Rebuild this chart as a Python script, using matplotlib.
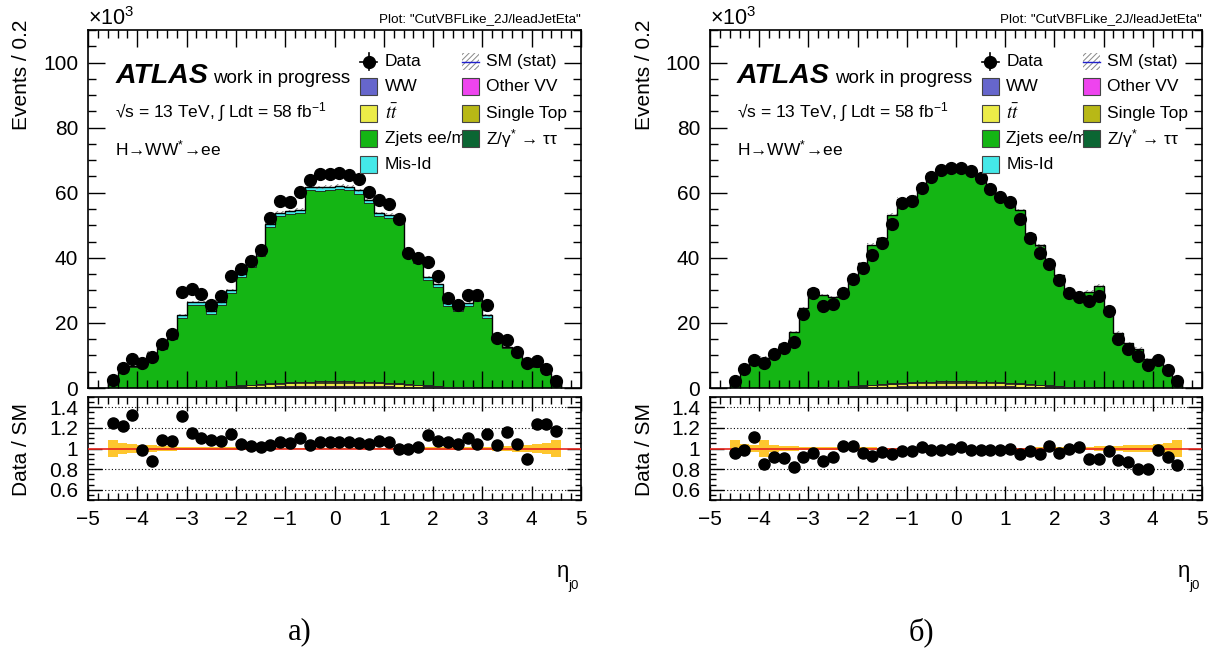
import numpy as np
import matplotlib
matplotlib.use('Agg')
import matplotlib.pyplot as plt
from matplotlib.patches import Rectangle
from matplotlib.lines import Line2D
from matplotlib.ticker import MultipleLocator, FuncFormatter

plt.rcParams['font.family'] = ['Liberation Sans', 'DejaVu Sans']
plt.rcParams['mathtext.fontset'] = 'custom'
plt.rcParams['mathtext.rm'] = 'Liberation Sans'
plt.rcParams['mathtext.it'] = 'Liberation Sans:italic'
plt.rcParams['mathtext.bf'] = 'Liberation Sans:bold'
plt.rcParams['hatch.linewidth'] = 0.7

# ---------------- data (x10^3 events per 0.2 bin) ----------------
eta_lo, eta_hi, n_bins = -4.6, 4.6, 46

# panel a)
data_a = [2.5, 6.1, 8.9, 7.6, 9.6, 13.4, 16.6, 29.4, 30.5, 29.0, 25.5, 28.3, 34.3, 36.5, 38.9, 42.5,
          52.2, 57.4, 57.1, 60.3, 64.0, 65.7, 65.9, 66.1, 65.5, 64.1, 60.2, 57.8, 56.4, 51.9, 41.4,
          40.0, 38.6, 34.3, 27.7, 25.5, 28.7, 28.6, 25.5, 15.5, 14.7, 11.2, 7.6, 8.4, 5.7, 2.1]
zjets_a = [1.89, 4.78, 6.34, 7.34, 10.43, 11.93, 14.91, 21.47, 25.45, 25.32, 22.54, 25.1, 28.61, 33.3,
           36.05, 39.44, 47.95, 51.26, 51.65, 51.93, 58.74, 58.53, 58.73, 58.93, 58.63, 57.74, 55.03,
           51.05, 50.56, 49.45, 39.14, 37.35, 32.5, 30.41, 24.9, 23.34, 25.12, 26.45, 21.37, 14.41,
           12.23, 10.23, 8.14, 6.44, 4.38, 1.69]
misid_a = [0.1, 0.2, 0.3, 0.3, 0.4, 0.4, 0.5, 0.8, 0.9, 0.9, 0.8, 0.9, 0.9, 1.0, 1.0, 1.0, 1.0, 1.0, 1.0,
           1.0, 1.1, 1.1, 1.1, 1.1, 1.1, 1.1, 1.0, 1.0, 1.0, 1.0, 1.0, 1.0, 0.9, 0.9, 0.8, 0.8, 0.8, 0.9,
           0.8, 0.5, 0.4, 0.4, 0.3, 0.3, 0.2, 0.1]
relerr_a = [0.085, 0.05, 0.045, 0.03, 0.03, 0.025, 0.02, 0.015, 0.013, 0.013, 0.013, 0.012, 0.011, 0.01,
            0.01, 0.009, 0.008, 0.008, 0.008, 0.008, 0.007, 0.007, 0.007, 0.007, 0.007, 0.007, 0.008,
            0.008, 0.008, 0.008, 0.009, 0.01, 0.01, 0.011, 0.012, 0.013, 0.013, 0.013, 0.015, 0.02,
            0.025, 0.03, 0.03, 0.04, 0.05, 0.085]

# panel b)
data_b = [2.3, 5.8, 8.7, 7.7, 10.5, 12.3, 14.1, 22.6, 29.1, 25.2, 25.7, 29.1, 33.5, 36.8, 40.9, 44.7,
          50.5, 56.9, 57.6, 61.3, 64.8, 67.0, 67.5, 67.7, 66.6, 64.5, 61.1, 58.7, 57.3, 52.0, 46.1,
          41.6, 38.2, 33.2, 29.1, 27.9, 26.6, 28.2, 23.8, 15.1, 12.0, 9.7, 7.2, 8.6, 5.5, 2.1]
zjets_b = [2.37, 5.85, 7.71, 9.0, 11.39, 13.38, 17.06, 24.4, 30.07, 28.34, 27.56, 28.02, 32.12, 37.41,
           42.85, 44.74, 51.65, 56.36, 56.95, 58.73, 63.44, 65.53, 65.33, 64.53, 65.13, 63.14, 59.73,
           57.45, 55.56, 53.15, 45.94, 42.65, 36.41, 33.92, 28.62, 27.16, 29.34, 31.07, 24.3, 16.86,
           13.68, 11.99, 8.9, 8.61, 5.95, 2.47]
misid_b = [0.02, 0.03, 0.03, 0.04, 0.04, 0.05, 0.05, 0.07, 0.08, 0.08, 0.08, 0.08, 0.09, 0.09, 0.1, 0.1,
           0.1, 0.1, 0.1, 0.1, 0.1, 0.1, 0.1, 0.1, 0.1, 0.1, 0.1, 0.1, 0.1, 0.1, 0.1, 0.1, 0.09, 0.09,
           0.08, 0.08, 0.08, 0.08, 0.07, 0.05, 0.05, 0.04, 0.04, 0.03, 0.03, 0.02]
relerr_b = [0.08, 0.04, 0.03, 0.08, 0.03, 0.025, 0.02, 0.015, 0.013, 0.013, 0.012, 0.012, 0.011, 0.01,
            0.01, 0.009, 0.008, 0.008, 0.008, 0.008, 0.007, 0.007, 0.007, 0.007, 0.007, 0.007, 0.008,
            0.008, 0.008, 0.008, 0.009, 0.01, 0.01, 0.011, 0.012, 0.013, 0.015, 0.02, 0.02, 0.025,
            0.03, 0.03, 0.035, 0.04, 0.05, 0.08]

# small backgrounds (same in both panels)
ww = [0.0, 0.0, 0.01, 0.01, 0.01, 0.01, 0.01, 0.02, 0.02, 0.03, 0.04, 0.07, 0.10, 0.14, 0.18, 0.22, 0.25,
      0.28, 0.30, 0.32, 0.33, 0.35, 0.35, 0.35, 0.35, 0.33, 0.32, 0.30, 0.28, 0.25, 0.22, 0.18, 0.14,
      0.10, 0.07, 0.04, 0.03, 0.02, 0.02, 0.01, 0.01, 0.01, 0.01, 0.01, 0.0, 0.0]
other_vv = [0.0, 0.0, 0.01, 0.01, 0.01, 0.01, 0.01, 0.02, 0.02, 0.03, 0.04, 0.06, 0.09, 0.12, 0.15, 0.18,
            0.20, 0.23, 0.25, 0.27, 0.28, 0.30, 0.30, 0.30, 0.30, 0.28, 0.27, 0.25, 0.23, 0.20, 0.18,
            0.15, 0.12, 0.09, 0.06, 0.04, 0.03, 0.02, 0.02, 0.01, 0.01, 0.01, 0.01, 0.01, 0.0, 0.0]
ttbar = [0.0, 0.0, 0.01, 0.01, 0.01, 0.01, 0.01, 0.01, 0.02, 0.03, 0.08, 0.15, 0.25, 0.35, 0.50, 0.60,
         0.70, 0.80, 0.85, 0.90, 0.95, 1.00, 1.00, 1.00, 1.00, 0.95, 0.90, 0.85, 0.80, 0.70, 0.60, 0.50,
         0.35, 0.25, 0.15, 0.08, 0.03, 0.02, 0.01, 0.01, 0.01, 0.01, 0.01, 0.01, 0.0, 0.0]
single_top = [0.0, 0.0, 0.0, 0.0, 0.0, 0.0, 0.01, 0.01, 0.01, 0.01, 0.02, 0.03, 0.05, 0.08, 0.10, 0.13,
              0.16, 0.18, 0.20, 0.22, 0.24, 0.25, 0.25, 0.25, 0.25, 0.24, 0.22, 0.20, 0.18, 0.16, 0.13,
              0.10, 0.08, 0.05, 0.03, 0.02, 0.01, 0.01, 0.01, 0.01, 0.0, 0.0, 0.0, 0.0, 0.0, 0.0]
z_tautau = [0.01, 0.02, 0.03, 0.03, 0.04, 0.04, 0.05, 0.07, 0.08, 0.08, 0.08, 0.09, 0.10, 0.11, 0.12, 0.13,
            0.14, 0.15, 0.15, 0.16, 0.16, 0.17, 0.17, 0.17, 0.17, 0.16, 0.16, 0.15, 0.15, 0.14, 0.13,
            0.12, 0.11, 0.10, 0.09, 0.08, 0.08, 0.08, 0.07, 0.05, 0.04, 0.04, 0.03, 0.03, 0.02, 0.01]

xticks = [-5, -4, -3, -2, -1, 0, 1, 2, 3, 4, 5]
yticks = [0, 20, 40, 60, 80, 100]
rticks = [0.6, 0.8, 1.0, 1.2, 1.4]

colors = {
    'WW': '#6666cc', 'Other VV': '#ee44ee', 'tt': '#ecec48', 'Single Top': '#b8b816',
    'Ztt': '#0b6633', 'Zjets': '#14b514', 'Mis-Id': '#44e8e8',
}

W, H = 1221, 652
fig = plt.figure(figsize=(W / 100, H / 100), dpi=100)


def fr(l, t, r, b):
    return [l / W, 1 - b / H, (r - l) / W, (b - t) / H]


edges = np.linspace(eta_lo, eta_hi, n_bins + 1)
centers = 0.5 * (edges[:-1] + edges[1:])


def style_axes(ax, major_len, minor_len):
    ax.tick_params(which='both', direction='in', top=True, right=True, labelsize=15, pad=7)
    ax.tick_params(which='major', length=major_len, width=1)
    ax.tick_params(which='minor', length=minor_len, width=1)
    for s in ax.spines.values():
        s.set_linewidth(1.2)


def panel(xl, xr, data, zjets, misid, relerr, caption, cap_x):
    ax = fig.add_axes(fr(xl, 30, xr, 388))
    axr = fig.add_axes(fr(xl, 397, xr, 500))

    comps = [(ww, colors['WW']), (other_vv, colors['Other VV']), (ttbar, colors['tt']),
             (single_top, colors['Single Top']), (z_tautau, colors['Ztt']),
             (zjets, colors['Zjets']), (misid, colors['Mis-Id'])]
    bottom = np.zeros(n_bins)
    for vals, col in comps:
        top = bottom + np.asarray(vals)
        ax.stairs(top, edges, baseline=bottom, fill=True, color=col, lw=0, zorder=2)
        ax.stairs(top, edges, baseline=None, color='#222222', lw=0.6, zorder=3)
        bottom = top
    total = bottom
    err = total * np.asarray(relerr)
    ax.stairs(total + err, edges, baseline=total - err, fill=True, facecolor='none',
              edgecolor='#888888', hatch='//////', lw=0, zorder=4)
    ax.stairs(total, edges, baseline=0, color='black', lw=1.0, zorder=4)
    ax.plot(centers, data, 'o', color='black', ms=8.5, zorder=6)

    ax.set_xlim(-5, 5)
    ax.set_ylim(0, 110)
    ax.set_xticks(xticks)
    ax.set_yticks(yticks)
    ax.xaxis.set_minor_locator(MultipleLocator(0.2))
    ax.yaxis.set_minor_locator(MultipleLocator(5))
    style_axes(ax, 12, 6)
    ax.tick_params(labelbottom=False)
    ax.set_axisbelow(False)

    # ratio panel
    ratio = np.asarray(data) / total
    re = np.asarray(relerr)
    axr.stairs(1 + re, edges, baseline=1 - re, fill=True, color='#fec62e', lw=0, zorder=2)
    axr.axhline(1.0, color='#e8261e', lw=1.2, zorder=3)
    for y in [0.6, 0.8, 1.2, 1.4]:
        axr.axhline(y, color='black', lw=0.8, ls=(0, (1, 2)), zorder=1)
    axr.plot(centers, ratio, 'o', color='black', ms=8, zorder=5)
    axr.set_xlim(-5, 5)
    axr.set_ylim(0.5, 1.5)
    axr.set_xticks(xticks)
    axr.set_yticks(rticks)
    axr.yaxis.set_major_formatter(FuncFormatter(lambda v, p: f'{v:g}'))
    axr.xaxis.set_major_formatter(FuncFormatter(lambda v, p: f'{v:g}'.replace('-', '\u2212')))
    axr.xaxis.set_minor_locator(MultipleLocator(0.2))
    axr.yaxis.set_minor_locator(MultipleLocator(0.05))
    style_axes(axr, 10, 5)
    axr.tick_params(axis='y', which='minor', length=4)

    # axis labels
    fig.text((xl - 66) / W, 1 - 20 / H, 'Events / 0.2', rotation=90, ha='center', va='top', fontsize=15)
    fig.text((xl - 66) / W, 1 - 449 / H, 'Data / SM', rotation=90, ha='center', va='center', fontsize=15)
    fig.text((xr - 18) / W, 1 - 572 / H, 'η', ha='center', va='center', fontsize=16)
    fig.text((xr - 7) / W, 1 - 586 / H, 'j0', ha='center', va='center', fontsize=9.5)
    fig.text(xl / W, 1 - 19 / H, r'$\times10^{3}$', ha='left', va='center', fontsize=15.5)
    fig.text(xr / W, 1 - 19 / H, 'Plot: "CutVBFLike_2J/leadJetEta"', ha='right', va='center', fontsize=9.7)
    fig.text(cap_x / W, 1 - 632 / H, caption, ha='center', va='center', fontsize=22,
             family='Liberation Serif')

    # ATLAS labels
    ax.text(0.055, 0.852, 'ATLAS', transform=ax.transAxes, fontsize=20.5, fontweight='bold',
            style='italic', va='baseline', ha='left', zorder=8)
    ax.text(0.254, 0.852, 'work in progress', transform=ax.transAxes, fontsize=13.5,
            va='baseline', ha='left', zorder=8)
    ax.text(0.055, 0.771, '\u221as = 13 TeV, \u222b Ldt = 58 fb$^{-1}$', transform=ax.transAxes,
            fontsize=12.5, va='center', ha='left', zorder=8)
    ax.text(0.055, 0.668, 'H\u2192WW$^{*}$\u2192ee', transform=ax.transAxes, fontsize=12.5,
            va='center', ha='left', zorder=8)

    # legend (drawn by hand, ROOT style)
    rows = [0.911, 0.841, 0.768, 0.696, 0.623]
    bw, bh = 0.0345, 0.0475
    c1, t1 = 0.552, 0.602
    c2, t2 = 0.759, 0.807
    fs = 12.5

    def box(x, y, col, z=8):
        ax.add_patch(Rectangle((x, y - bh / 2), bw, bh, transform=ax.transAxes, facecolor=col,
                               edgecolor='#444444', lw=0.8, zorder=z))

    # Data
    xm = c1 + bw / 2
    ax.add_line(Line2D([c1, c1 + bw], [rows[0], rows[0]], transform=ax.transAxes, color='k', lw=1.2, zorder=8))
    ax.add_line(Line2D([xm, xm], [rows[0] - bh / 2, rows[0] + bh / 2], transform=ax.transAxes,
                       color='k', lw=1.2, zorder=8))
    ax.add_line(Line2D([xm], [rows[0]], transform=ax.transAxes, marker='o', ms=8.5, color='k', zorder=8))
    ax.text(t1, rows[0], 'Data', transform=ax.transAxes, fontsize=fs, va='center', zorder=8)
    # SM (stat)
    ax.add_patch(Rectangle((c2, rows[0] - bh / 2), bw, bh, transform=ax.transAxes, facecolor='none',
                           edgecolor='#888888', hatch='//////', lw=0, zorder=8))
    ax.add_line(Line2D([c2, c2 + bw], [rows[0], rows[0]], transform=ax.transAxes, color='#2020cc',
                       lw=1.0, zorder=8))
    ax.text(t2, rows[0], 'SM (stat)', transform=ax.transAxes, fontsize=fs, va='center', zorder=8)

    box(c1, rows[1], colors['WW'])
    ax.text(t1, rows[1], 'WW', transform=ax.transAxes, fontsize=fs, va='center', zorder=8)
    box(c2, rows[1], colors['Other VV'])
    ax.text(t2, rows[1], 'Other VV', transform=ax.transAxes, fontsize=fs, va='center', zorder=8)

    box(c1, rows[2], colors['tt'])
    ax.text(t1, rows[2], r'$t\bar{t}$', transform=ax.transAxes, fontsize=fs + 1, va='center',
            zorder=8, math_fontfamily='stix')
    box(c2, rows[2], colors['Single Top'])
    ax.text(t2, rows[2], 'Single Top', transform=ax.transAxes, fontsize=fs, va='center', zorder=8)

    box(c1, rows[3], colors['Zjets'])
    ax.text(t1, rows[3], 'Zjets ee/mm', transform=ax.transAxes, fontsize=fs, va='center', zorder=7)
    box(c2, rows[3], colors['Ztt'], z=9)
    ax.text(t2, rows[3], 'Z/\u03b3$^{*}$ \u2192 \u03c4\u03c4', transform=ax.transAxes, fontsize=fs,
            va='center', zorder=9)

    box(c1, rows[4], colors['Mis-Id'])
    ax.text(t1, rows[4], 'Mis-Id', transform=ax.transAxes, fontsize=fs, va='center', zorder=8)


panel(88, 581, data_a, zjets_a, misid_a, relerr_a, '\u0430)', 300)
panel(710, 1202, data_b, zjets_b, misid_b, relerr_b, '\u0431)', 921)

fig.savefig('out.png', dpi=100)
